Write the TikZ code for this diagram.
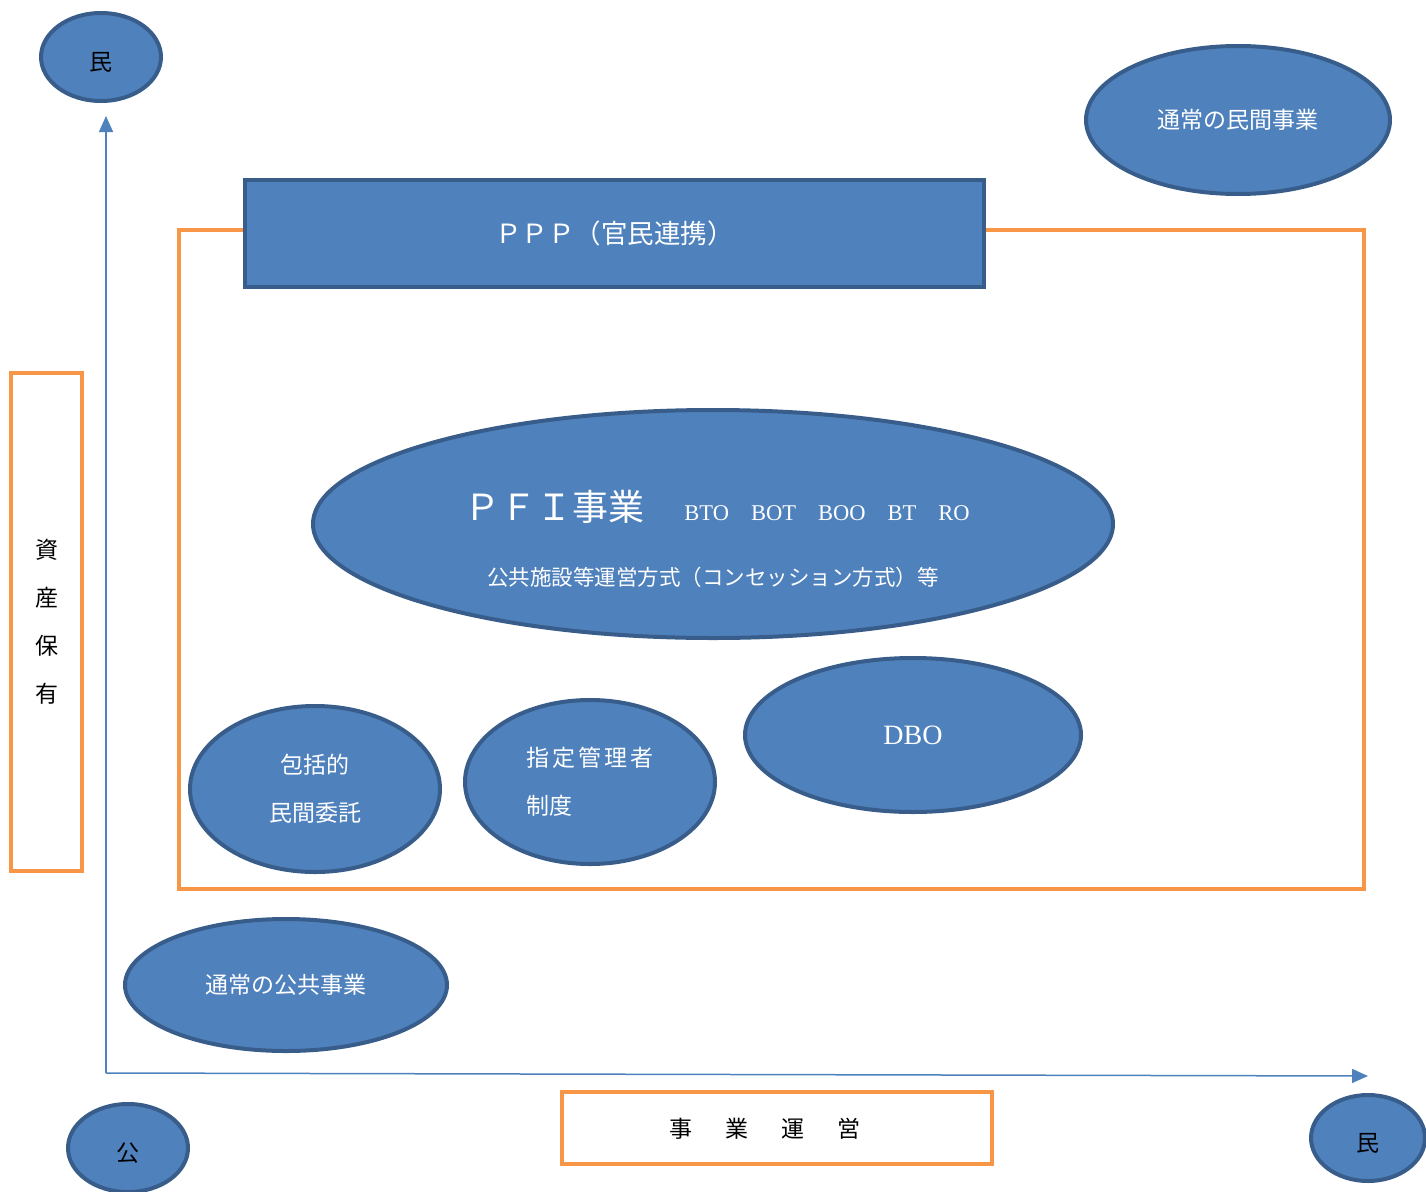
\documentclass[tikz,border=0pt]{standalone}
\usepackage{fontspec}
\setmainfont{Liberation Serif}
\newfontfamily\jp{Noto Sans CJK JP}
\usetikzlibrary{shapes.geometric,arrows.meta}
\definecolor{blueFill}{HTML}{4F81BD}
\definecolor{blueLine}{HTML}{385D8A}
\definecolor{orangeLine}{HTML}{F79646}
\tikzset{
  blob/.style={ellipse, fill=blueFill, draw=blueLine, line width=4pt, inner sep=0pt,
    text=white, font=\jp\fontsize{23}{48}\selectfont},
  frame/.style={draw=orangeLine, line width=3.5pt},
  axisline/.style={draw=blueFill, line width=1.5pt, -{Triangle[length=16pt,width=14pt]}},
}
\newcommand\lowered[1]{\raisebox{-5pt}[\height][\depth]{#1}}
\begin{document}
\begin{tikzpicture}[x=1pt,y=-1pt]
  \useasboundingbox (0,0) rectangle (1426,1191);
  \clip (0,0) rectangle (1426,1191);
  % frames
  \draw[frame] (179,230) rectangle (1364,889);
  \draw[frame] (11,373) rectangle (82,871);
  \draw[frame] (562,1092) rectangle (992,1164);
  \node[font=\jp\fontsize{23}{48}\selectfont, align=center] (asset) at (47,622)
    {資\\産\\保\\有};
  \node[font=\jp\fontsize{23}{28}\selectfont] (oper) at (765,1129)
    {事\hspace{33pt}業\hspace{33pt}運\hspace{33pt}営};
  % axes
  \coordinate (origin) at (106,1073);
  \coordinate (yEnd) at (106,116);
  \coordinate (xEnd) at (1368,1076);
  \draw[axisline] (origin) -- (yEnd);
  \draw[axisline] (origin) -- (xEnd);
  % axis ends
  \node[blob, minimum width=120pt, minimum height=88pt, text=black] (minTop) at (101,57) {\lowered{民}};
  \node[blob, minimum width=120pt, minimum height=88pt, text=black] (kou) at (128,1148) {\lowered{公}};
  \node[blob, minimum width=114pt, minimum height=86pt, text=black] (minRight) at (1368,1138) {\lowered{民}};
  % PPP
  \node[fill=blueFill, draw=blueLine, line width=4pt, minimum width=739pt, minimum height=107pt,
    text=white, font=\jp\fontsize{26.5}{30}\selectfont] (ppp) at (614.5,233.5) {ＰＰＰ（官民連携）};
  \node[blob, minimum width=304pt, minimum height=148pt] (privBiz) at (1238,120) {通常の民間事業};
  % PFI
  \node[blob, minimum width=800pt, minimum height=228pt] (pfi) at (713,524) {};
  \node[text=white, font=\fontsize{22.5}{25}\selectfont] (pfiTop) at (717,507)
    {{\jp\fontsize{36}{40}\selectfont ＰＦＩ事業}\hspace{40pt}BTO\hspace{22pt}BOT\hspace{22pt}BOO\hspace{22pt}BT\hspace{22pt}RO};
  \node[text=white, font=\jp\fontsize{21.5}{25}\selectfont] (pfiSub) at (713,577)
    {公共施設等運営方式（コンセッション方式）等};
  % lower ellipses
  \node[blob, minimum width=250pt, minimum height=166pt, align=center] (itaku) at (315,789)
    {包括的\\民間委託};
  \node[blob, minimum width=250pt, minimum height=164pt, align=left] (shitei) at (590,782)
    {指\kern3pt 定\kern3pt 管\kern3pt 理\kern3pt 者\\制度};
  \node[blob, minimum width=336pt, minimum height=154pt, font=\fontsize{28}{32}\selectfont] (dbo) at (913,735) {DBO};
  \node[blob, minimum width=322pt, minimum height=132pt] (pubBiz) at (286,985) {通常の公共事業};
\end{tikzpicture}
\end{document}
